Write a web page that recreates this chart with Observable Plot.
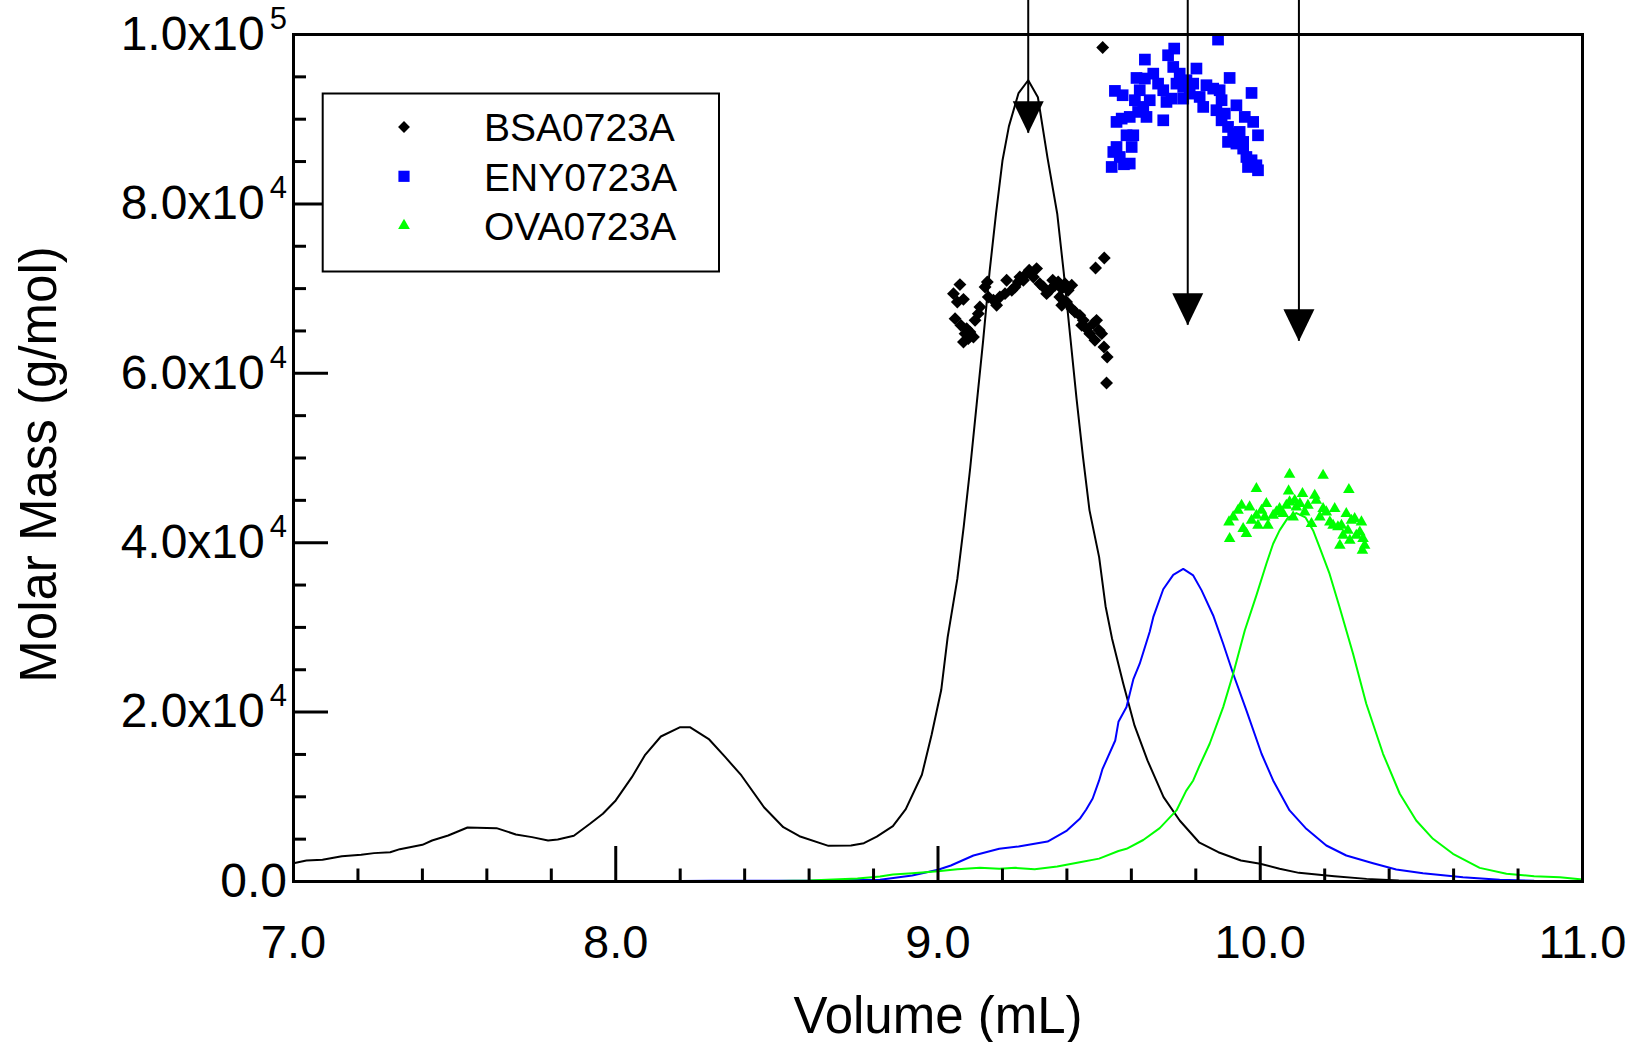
<!DOCTYPE html>
<html>
<head>
<meta charset="utf-8">
<script src="https://cdn.jsdelivr.net/npm/d3@7"></script>
<script src="https://cdn.jsdelivr.net/npm/@observablehq/plot@0.6"></script>
<style>
  html, body { margin: 0; padding: 0; background: #fff; }
  svg { display: block; }
</style>
</head>
<body>
<script>
// ---------------- data ----------------
const seriesNames = ["BSA0723A", "ENY0723A", "OVA0723A"];
const seriesColors = ["#000000", "#0000ff", "#00ff00"];

const xMajor = [7, 8, 9, 10, 11];
const xMinor = [7.2, 7.4, 7.6, 7.8, 8.2, 8.4, 8.6, 8.8, 9.2, 9.4, 9.6, 9.8, 10.2, 10.4, 10.6, 10.8];
const yMajor = [0, 20000, 40000, 60000, 80000, 100000];
const yMinor = [5000, 10000, 15000, 25000, 30000, 35000, 45000, 50000, 55000, 65000, 70000, 75000, 85000, 90000, 95000];

// concentration traces (volume mL, signal on molar-mass axis)
const bsaTrace = [
  [7.00,2160],[7.04,2480],[7.09,2560],[7.15,2990],[7.21,3150],[7.25,3350],[7.30,3460],[7.33,3820],
  [7.40,4330],[7.43,4840],[7.48,5430],[7.54,6380],[7.63,6300],[7.69,5550],[7.74,5240],[7.79,4840],
  [7.82,4960],[7.87,5400],[7.92,6810],[7.96,8000],[8.00,9570],[8.05,12320],[8.09,14880],[8.14,17120],
  [8.20,18220],[8.23,18220],[8.29,16770],[8.34,14680],[8.39,12520],[8.46,8770],[8.52,6410],[8.57,5350],
  [8.66,4210],[8.73,4250],[8.77,4520],[8.81,5290],[8.86,6540],[8.90,8540],[8.95,12600],[8.98,17290],
  [9.01,22600],[9.03,28850],[9.06,35720],[9.08,41970],[9.10,48850],[9.12,56350],[9.14,63840],[9.16,71970],
  [9.18,78840],[9.20,85090],[9.22,89150],[9.25,93090],[9.28,94600],[9.31,92590],[9.34,85400],[9.37,78840],
  [9.39,71970],[9.41,64470],[9.43,56970],[9.45,50100],[9.47,43850],[9.50,38300],[9.52,32500],[9.54,28700],
  [9.575,23350],[9.61,18400],[9.65,14300],[9.70,9960],[9.75,7200],[9.81,4630],[9.87,3460],[9.94,2480],
  [10.00,2090],[10.06,1500],[10.12,1020],[10.23,630],[10.33,310],[10.43,120],[10.55,30],[10.70,0],[11.00,0]
];
const enyTrace = [
  [7.00,0],[7.30,60],[7.60,20],[8.00,0],[8.30,80],[8.60,100],[8.82,200],[8.92,710],[9.00,1380],[9.04,1890],
  [9.11,3070],[9.19,3860],[9.25,4130],[9.34,4720],[9.40,6020],[9.44,7400],[9.46,8500],[9.48,9800],
  [9.50,11930],[9.51,13230],[9.55,16650],[9.56,18850],[9.585,20590],[9.606,23860],[9.626,25710],
  [9.657,29480],[9.668,31210],[9.699,34500],[9.730,36200],[9.761,36900],[9.792,36140],[9.818,34370],
  [9.854,31410],[9.885,28070],[9.916,24530],[9.957,20200],[10.004,15080],[10.040,11930],[10.091,8390],
  [10.143,6220],[10.205,4250],[10.267,3070],[10.350,2160],[10.422,1420],[10.505,980],[10.629,510],
  [10.743,200],[10.85,80],[11.00,50]
];
const ovaTrace = [
  [7.00,0],[8.00,0],[8.40,0],[8.60,120],[8.75,350],[8.82,590],[8.86,830],[8.92,980],[9.00,1220],[9.06,1450],
  [9.13,1610],[9.19,1500],[9.24,1610],[9.30,1450],[9.37,1770],[9.44,2280],[9.50,2700],[9.56,3600],
  [9.585,3860],[9.637,4900],[9.688,6300],[9.74,8390],[9.77,10700],[9.792,11930],[9.812,13700],
  [9.843,16260],[9.885,20590],[9.916,24530],[9.952,29640],[9.988,33780],[10.019,37520],[10.040,39880],
  [10.060,41450],[10.085,42900],[10.112,43500],[10.14,43000],[10.164,41450],[10.184,39480],[10.215,36340],
  [10.246,32400],[10.288,26890],[10.329,20990],[10.381,15080],[10.433,10360],[10.484,7200],[10.536,5040],
  [10.598,3270],[10.681,1610],[10.764,910],[10.850,630],[10.930,510],[11.00,240]
];

// molar mass points (volume mL, g/mol)
const bsaMass = [
  [9.068,70470],[9.048,69400],[9.060,68420],[9.079,68730],[9.053,66450],[9.071,65660],[9.089,65270],
  [9.084,64680],[9.099,64880],[9.079,63700],[9.115,66250],[9.125,67040],[9.130,67830],[9.110,64290],
  [9.094,64090],[9.146,70190],[9.153,70780],[9.156,69010],[9.172,68620],[9.182,68030],[9.192,69010],
  [9.208,69400],[9.213,70980],[9.229,69800],[9.239,70190],[9.249,70780],[9.254,71370],[9.265,70980],
  [9.275,71770],[9.283,72160],[9.296,71370],[9.306,72360],[9.316,70580],[9.327,70190],[9.337,69400],
  [9.347,69800],[9.356,70980],[9.363,70390],[9.373,70780],[9.384,69990],[9.394,70580],[9.404,69800],
  [9.415,70390],[9.378,69010],[9.384,68030],[9.399,68420],[9.415,67630],[9.425,67240],[9.440,66840],
  [9.451,66250],[9.446,65660],[9.461,65270],[9.471,64680],[9.482,65860],[9.492,66250],[9.500,65070],
  [9.508,64680],[9.515,63110],[9.487,63890],[9.511,98460],[9.516,73620],[9.489,72430],[9.525,61920],
  [9.523,58850]
];
const enyMass = [
  [9.539,84360],[9.544,86130],[9.554,86720],[9.564,85540],[9.577,84680],[9.595,84760],[9.585,88100],
  [9.606,88100],[9.601,86720],[9.554,89680],[9.570,90070],[9.595,90270],[9.549,93340],[9.573,92830],
  [9.611,92240],[9.621,90860],[9.637,91450],[9.647,90270],[9.657,92240],[9.626,93420],[9.616,94870],
  [9.642,94800],[9.668,95380],[9.683,94200],[9.642,97040],[9.699,89870],[9.709,92040],[9.725,92430],
  [9.699,93420],[9.714,97550],[9.733,98340],[9.730,96170],[9.750,95380],[9.740,94200],[9.761,93810],
  [9.771,94600],[9.781,93020],[9.761,92430],[9.802,95980],[9.792,94200],[9.812,92630],[9.823,91450],
  [9.833,94010],[9.854,93610],[9.869,99400],[9.874,93420],[9.905,94870],[9.880,92240],[9.864,91060],
  [9.890,90660],[9.880,89870],[9.900,89090],[9.926,91640],[9.916,88300],[9.936,88500],[9.952,90270],
  [9.973,93100],[9.978,89680],[9.993,88100],[9.900,87320],[9.926,87120],[9.947,86530],[9.957,85540],
  [9.973,85150],[9.988,84560],[9.962,84360],[9.993,83970],[9.947,87320]
];
const ovaMass = [
  [9.905,40470],[9.903,42440],[9.916,43030],[9.931,43810],[9.942,44400],[9.947,41650],[9.957,41060],
  [9.967,44210],[9.973,42630],[9.988,43225],[9.993,42040],[10.004,43810],[10.014,43030],[10.019,44600],
  [10.024,42040],[9.988,46370],[10.040,43225],[10.050,43620],[10.060,44010],[10.071,43420],[10.081,44400],
  [10.091,44800],[10.107,44995],[10.112,44210],[10.102,43030],[10.123,44600],[10.131,45780],[10.138,43620],
  [10.148,44400],[10.159,42240],[10.169,45590],[10.174,44995],[10.185,43030],[10.195,44010],[10.205,43620],
  [10.091,48070],[10.088,46100],[10.195,47950],[10.216,42440],[10.226,42040],[10.231,44010],[10.241,41850],
  [10.252,42040],[10.257,40860],[10.267,43420],[10.272,41450],[10.278,40270],[10.283,42630],[10.293,42830],
  [10.298,40860],[10.309,41255],[10.314,42440],[10.319,40470],[10.324,39680],[10.317,39090],[10.247,39680],
  [10.275,46250]
];

// peak arrows: volume and arrow-tip value
const arrowVol = [9.28, 9.775, 10.12];
const arrowTip = [88340, 65660, 63770];

const xLabel = "Volume (mL)";
const yLabel = "Molar Mass (g/mol)";

// ---------------- layout ----------------
const W = 1637, H = 1042;
const mL = 293, mR = 55, mT = 34, mB = 161;
const frameW = W - mL - mR, frameH = H - mT - mB;
const yMax = 100000;
const font = "'Liberation Sans', Arial, Helvetica, sans-serif";

const arrows = arrowVol.map((x, i) => ({x, tip: arrowTip[i], top: yMax}));

const arrowHead = {
  draw(ctx) {
    ctx.moveTo(0, 0);
    ctx.lineTo(-15.5, -32);
    ctx.lineTo(15.5, -32);
    ctx.closePath();
  }
};

const px = d => d[0], py = d => d[1];

const yFmt = d => {
  if (d === 0) return "0.0";
  const e = Math.floor(Math.log10(d));
  return `${(d / 10 ** e).toFixed(1)}x10^${e}`;
};

const chart = Plot.plot({
  width: W, height: H,
  marginLeft: mL, marginRight: mR, marginTop: mT, marginBottom: mB,
  style: {fontFamily: font, background: "#fff", color: "#000", overflow: "visible"},
  x: {domain: [7, 11]},
  y: {domain: [0, yMax]},
  marks: [
    Plot.line(bsaTrace, {x: px, y: py, stroke: seriesColors[0], strokeWidth: 2}),
    Plot.line(enyTrace, {x: px, y: py, stroke: seriesColors[1], strokeWidth: 2}),
    Plot.line(ovaTrace, {x: px, y: py, stroke: seriesColors[2], strokeWidth: 2}),
    Plot.dot(bsaMass, {x: px, y: py, symbol: "diamond2", r: 5.8, fill: seriesColors[0], stroke: "none"}),
    Plot.dot(enyMass, {x: px, y: py, symbol: "square", r: 6.6, fill: seriesColors[1], stroke: "none"}),
    Plot.dot(ovaMass, {x: px, y: py, symbol: "triangle", r: 4.3, fill: seriesColors[2], stroke: "none"}),
    Plot.ruleX(arrows, {x: "x", y1: "top", y2: "tip", insetTop: -mT, stroke: "#000", strokeWidth: 2}),
    Plot.dot(arrows, {x: "x", y: "tip", symbol: arrowHead, fill: "#000", stroke: "none"}),
    // inward ticks
    Plot.tickX(xMajor, {x: d => d, insetTop: frameH - 35, stroke: "#000", strokeWidth: 3}),
    Plot.tickX(xMinor, {x: d => d, insetTop: frameH - 12.5, stroke: "#000", strokeWidth: 3}),
    Plot.tickY(yMajor, {y: d => d, insetRight: frameW - 35, stroke: "#000", strokeWidth: 3}),
    Plot.tickY(yMinor, {y: d => d, insetRight: frameW - 13, stroke: "#000", strokeWidth: 3}),
    Plot.frame({stroke: "#000", strokeWidth: 3}),
    Plot.axisX({ticks: xMajor, tickSize: 0, tickPadding: 43, tickFormat: d => d.toFixed(1), fontSize: 47, label: null}),
    Plot.axisY({ticks: yMajor, tickSize: 0, tickPadding: 6.5, tickFormat: yFmt, fontSize: 48, label: null}),
    Plot.text([xLabel], {text: d => d, frameAnchor: "bottom", textAnchor: "middle", lineAnchor: "middle", dy: 134.7, fontSize: 51}),
    Plot.text([yLabel], {text: d => d, frameAnchor: "left", textAnchor: "middle", lineAnchor: "middle", rotate: -90, dx: -254, dy: 6.5, fontSize: 51})
  ]
});

// superscript exponents on the y tick labels
d3.select(chart).selectAll('g[aria-label^="y-axis tick label"] text').each(function () {
  const t = this.textContent;
  if (t.includes("^")) {
    const [base, exp] = t.split("^");
    const s = d3.select(this);
    s.text(base);
    s.append("tspan").attr("dx", 5).attr("dy", -21).style("font-size", "31px").text(exp);
  }
});

// legend box
const symbols = [d3.symbolDiamond2, d3.symbolSquare, d3.symbolTriangle];
const symSizes = [90, 125, 60];
const lg = d3.select(chart).append("g").attr("font-family", font).attr("text-anchor", "start");
lg.append("rect")
  .attr("x", 322.7).attr("y", 93.5).attr("width", 396.3).attr("height", 178)
  .attr("fill", "#fff").attr("stroke", "#000").attr("stroke-width", 2);
seriesNames.forEach((name, i) => {
  const cy = 127 + i * 49.3;
  lg.append("path")
    .attr("transform", `translate(404,${cy})`)
    .attr("d", d3.symbol(symbols[i], symSizes[i])())
    .attr("fill", seriesColors[i]);
  lg.append("text")
    .attr("x", 484).attr("y", cy + 14.2)
    .attr("text-anchor", "start")
    .attr("font-size", 39).attr("fill", "#000")
    .text(name);
});

document.body.appendChild(chart);
</script>
</body>
</html>
